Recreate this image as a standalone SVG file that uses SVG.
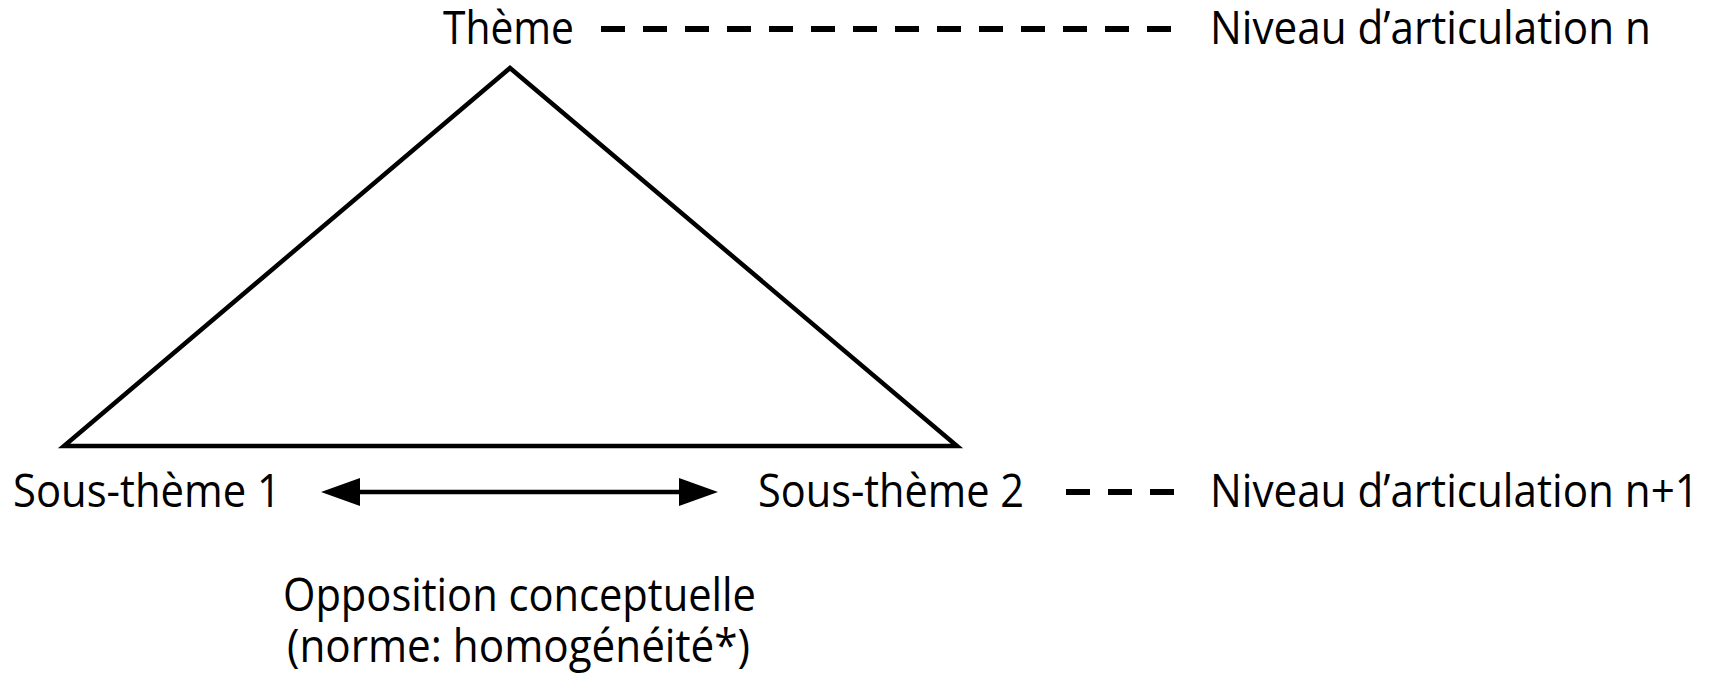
<svg xmlns="http://www.w3.org/2000/svg" width="1719" height="675" viewBox="0 0 1719 675">
<style>
text{font-family:"Open Sans","Liberation Sans",sans-serif;font-size:45px;fill:#000}
.ln{stroke:#000;stroke-width:4.5;fill:none}
.dash{stroke:#000;stroke-width:6;stroke-dasharray:24 18;fill:none}
</style>
<rect width="1719" height="675" fill="#fff"/>
<g id="connectors">
<path class="ln" d="M510,68 L957,446 L64,446 Z" stroke-linejoin="miter"/>
<line class="dash" x1="601" y1="29" x2="1171" y2="29"/>
<line class="dash" x1="1066" y1="492" x2="1174" y2="492"/>
<line class="ln" x1="355" y1="492" x2="684" y2="492" stroke-width="6"/>
<path d="M321,492 L360,478 L360,506 Z" fill="#000"/>
<path d="M718,492 L679,478 L679,506 Z" fill="#000"/>
</g>
<g id="theme"><text x="443" y="44" textLength="131" lengthAdjust="spacingAndGlyphs">Thème</text></g>
<g id="niveau-n"><text x="1210" y="44" textLength="441" lengthAdjust="spacingAndGlyphs">Niveau d’articulation n</text></g>
<g id="sous-theme-1"><text x="13" y="507" textLength="268" lengthAdjust="spacingAndGlyphs">Sous-thème 1</text></g>
<g id="sous-theme-2"><text x="758" y="507" textLength="266" lengthAdjust="spacingAndGlyphs">Sous-thème 2</text></g>
<g id="niveau-n1"><text x="1210" y="507" textLength="489" lengthAdjust="spacingAndGlyphs">Niveau d’articulation n+1</text></g>
<g id="opposition">
<text x="283" y="611" textLength="473" lengthAdjust="spacingAndGlyphs">Opposition conceptuelle</text>
<text x="287" y="662" textLength="463" lengthAdjust="spacingAndGlyphs">(norme: homogénéité*)</text>
</g>
</svg>
